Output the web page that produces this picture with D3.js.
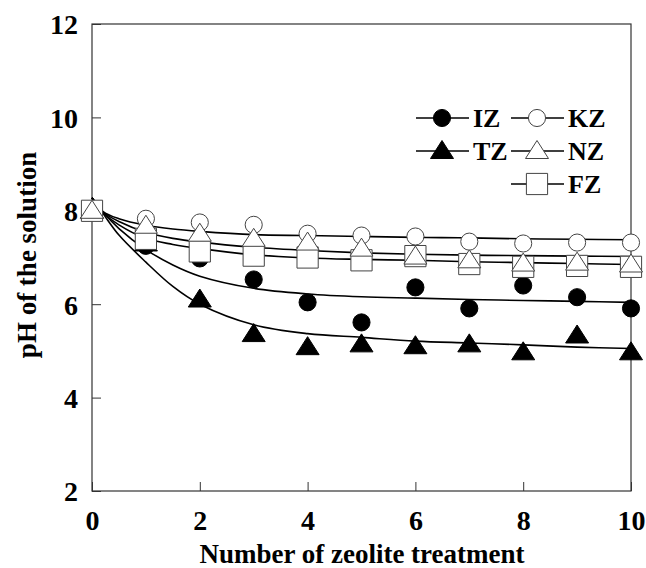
<!DOCTYPE html>
<meta charset="utf-8">
<style>
body { margin: 0; background: #fff; }
text { font-family: "Liberation Serif", "Times New Roman", serif; font-weight: bold; fill: #000; }
.axis path, .axis line { stroke: #333; }
.fit { fill: none; stroke: #000; stroke-width: 1.6; }
</style>
<body>
<svg width="646" height="568"></svg>
<script src="https://d3js.org/d3.v7.min.js"></script>
<script>
// measured pH values, treatment 0..10
var treatments = [0, 1, 2, 3, 4, 5, 6, 7, 8, 9, 10];
var izPH = [8.0, 7.25, 6.98, 6.53, 6.04, 5.61, 6.36, 5.91, 6.40, 6.15, 5.91];
var kzPH = [8.0, 7.83, 7.75, 7.70, 7.51, 7.47, 7.45, 7.34, 7.30, 7.32, 7.32];
var tzPH = [8.0, 7.30, 6.10, 5.36, 5.08, 5.14, 5.10, 5.14, 4.97, 5.33, 4.97];
var nzPH = [8.0, 7.68, 7.51, 7.40, 7.32, 7.19, 7.02, 6.94, 6.87, 6.89, 6.85];
var fzPH = [8.0, 7.40, 7.13, 7.04, 7.00, 6.94, 7.03, 6.86, 6.80, 6.82, 6.80];

// fitted curves
var fitX = [0, 0.2, 0.5, 1, 1.5, 2, 3, 4, 5, 6, 7, 8, 9, 10];
var izFit = [8.28, 7.98, 7.62, 7.17, 6.84, 6.60, 6.34, 6.22, 6.16, 6.13, 6.10, 6.08, 6.06, 6.04];
var kzFit = [8.28, 7.99, 7.83, 7.69, 7.61, 7.56, 7.49, 7.47, 7.45, 7.43, 7.42, 7.40, 7.39, 7.38];
var tzFit = [8.28, 7.95, 7.48, 6.90, 6.38, 6.00, 5.56, 5.37, 5.29, 5.21, 5.17, 5.13, 5.08, 5.05];
var nzFit = [8.28, 7.98, 7.77, 7.54, 7.41, 7.33, 7.22, 7.15, 7.10, 7.07, 7.05, 7.04, 7.03, 7.02];
var fzFit = [8.28, 7.97, 7.70, 7.41, 7.28, 7.19, 7.06, 6.99, 6.96, 6.94, 6.91, 6.89, 6.87, 6.85];

var xTicks = [0, 2, 4, 6, 8, 10];
var yTicks = [2, 4, 6, 8, 10, 12];

var svg = d3.select("svg"),
    margin = {top: 24, right: 15, bottom: 77, left: 92},
    width = +svg.attr("width") - margin.left - margin.right,
    height = +svg.attr("height") - margin.top - margin.bottom;

var x = d3.scaleLinear().domain([0, 10]).range([0, width]);
var y = d3.scaleLinear().domain([2, 12]).range([height, 0]);

var g = svg.append("g")
    .attr("transform", "translate(" + margin.left + "," + margin.top + ")");

// frame
g.append("rect")
    .attr("width", width)
    .attr("height", height)
    .attr("fill", "none")
    .attr("stroke", "#333")
    .attr("stroke-width", 1.2);

var xAxis = g.append("g")
    .attr("class", "axis")
    .attr("transform", "translate(0," + height + ")")
    .call(d3.axisBottom(x).tickValues(xTicks).tickSizeInner(-9).tickSizeOuter(0).tickPadding(19));
xAxis.select(".domain").remove();
xAxis.selectAll("text").style("font-size", "28px");

var yAxis = g.append("g")
    .attr("class", "axis")
    .call(d3.axisLeft(y).tickValues(yTicks).tickSizeInner(-9).tickSizeOuter(0).tickPadding(14));
yAxis.select(".domain").remove();
yAxis.selectAll("text").style("font-size", "28px").attr("dy", "0.35em");

svg.append("text")
    .attr("x", 362)
    .attr("y", 563)
    .attr("text-anchor", "middle")
    .style("font-size", "27px")
    .text("Number of zeolite treatment");

svg.append("text")
    .attr("transform", "translate(36,255) rotate(-90)")
    .attr("text-anchor", "middle")
    .style("font-size", "27px")
    .text("pH of the solution");

var series = [
  {name: "IZ", pts: izPH, fit: izFit, shape: "circle", fill: "#000"},
  {name: "TZ", pts: tzPH, fit: tzFit, shape: "triangle", fill: "#000"},
  {name: "KZ", pts: kzPH, fit: kzFit, shape: "circle", fill: "#fff"},
  {name: "FZ", pts: fzPH, fit: fzFit, shape: "square", fill: "#fff"},
  {name: "NZ", pts: nzPH, fit: nzFit, shape: "triangle", fill: "#fff"}
];

var line = d3.line()
    .x(function(d) { return x(d[0]); })
    .y(function(d) { return y(d[1]); })
    .curve(d3.curveCatmullRom.alpha(0.5));

series.forEach(function(s) {
  g.append("path")
      .attr("class", "fit")
      .attr("d", line(fitX.map(function(t, i) { return [t, s.fit[i]]; })));
});

function marker(sel, shape, fill) {
  var path;
  if (shape == "circle") path = d3.symbol().type(d3.symbolCircle).size(230)();
  else if (shape == "square") path = d3.symbol().type(d3.symbolSquare).size(450)();
  else path = "M0,-10.5L11.5,7.5L-11.5,7.5Z";
  sel.append("path")
      .attr("d", path)
      .attr("fill", fill)
      .attr("stroke", fill == "#000" ? "#000" : "#444")
      .attr("stroke-width", 1);
}

series.forEach(function(s) {
  var pts = g.selectAll(null)
      .data(treatments.map(function(t, i) { return [t, s.pts[i]]; }))
      .enter().append("g")
      .attr("transform", function(d) { return "translate(" + x(d[0]) + "," + y(d[1]) + ")"; });
  marker(pts, s.shape, s.fill);
});

// legend
var legendItems = [
  {name: "IZ", shape: "circle", fill: "#000", col: 0, row: 0},
  {name: "KZ", shape: "circle", fill: "#fff", col: 1, row: 0},
  {name: "TZ", shape: "triangle", fill: "#000", col: 0, row: 1},
  {name: "NZ", shape: "triangle", fill: "#fff", col: 1, row: 1},
  {name: "FZ", shape: "square", fill: "#fff", col: 1, row: 2}
];

var leg = svg.selectAll(".legend")
    .data(legendItems)
    .enter().append("g")
    .attr("class", "legend")
    .attr("transform", function(d) { return "translate(" + (442 + d.col * 95) + "," + (118 + d.row * 33) + ")"; });

leg.append("line")
    .attr("x1", -26).attr("x2", 27)
    .attr("stroke", "#000").attr("stroke-width", 1.6);

leg.each(function(d) { marker(d3.select(this), d.shape, d.fill); });

leg.append("text")
    .attr("x", 31)
    .attr("dy", "0.35em")
    .style("font-size", "26px")
    .text(function(d) { return d.name; });
</script>
</body>
